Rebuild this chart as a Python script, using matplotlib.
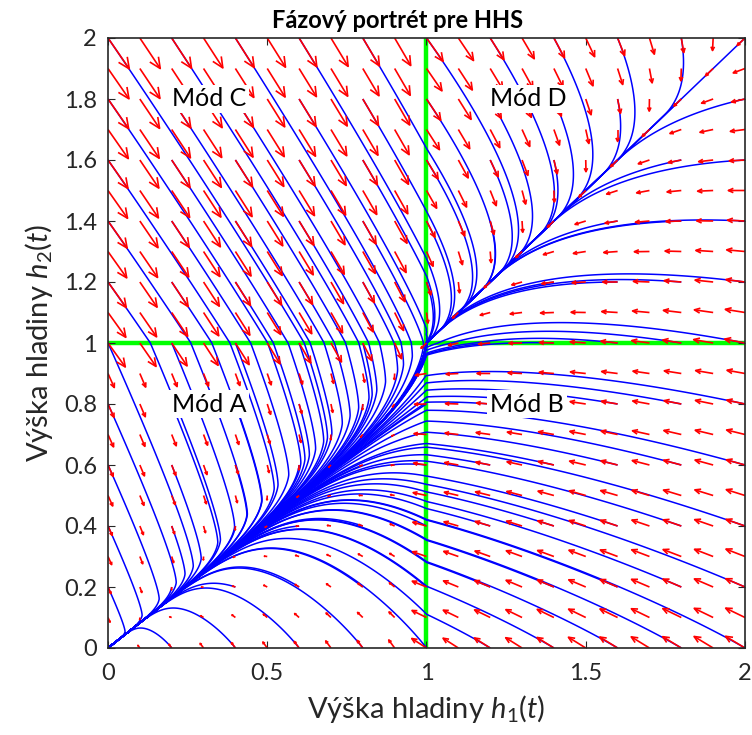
import numpy as np
import matplotlib
matplotlib.use("Agg")
import matplotlib.pyplot as plt
from matplotlib.collections import LineCollection

# ---------------- model of the hybrid two-tank system (per mode A, B, C, D) -------------
mode_names = ["A", "B", "C", "D"]
# exchange gains when h2 > h1 (flow 2 -> 1)
k1_pos = [0.018, 0.020, 0.047, 0.060]
k2_pos = [0.024, 0.027, 0.047, 0.045]
# exchange gains when h1 > h2 (flow 1 -> 2)
k1_neg = [0.016, 0.020, 0.047, 0.034]
k2_neg = [0.024, 0.027, 0.047, 0.026]
o1_mode = [0.001, 0.020, 0.005, 0.015]     # outflow coefficient tank 1
o2_mode = [0.018, 0.0196, 0.021, 0.015]    # outflow coefficient tank 2
p_mode = [0.5, 0.3, 0.3, 0.5]              # exchange exponent
h_switch = 1.0                             # switching level

# quiver grid and trajectory start points
grid_h = np.round(np.arange(0, 2.0001, 0.1), 10)
init_h = np.round(np.arange(0, 2.0001, 0.2), 10)

# texts
title = "Fázový portrét pre HHS"
xlabel = r"Výška hladiny $\mathit{h}_{\mathit{1}}\mathit{(t)}$"
ylabel = r"Výška hladiny $\mathit{h}_{\mathit{2}}\mathit{(t)}$"
labels = ["Mód A", "Mód B", "Mód C", "Mód D"]
label_h1 = [0.2, 1.2, 0.2, 1.2]
label_h2 = [0.8, 0.8, 1.8, 1.8]
xticks = [0, 0.5, 1, 1.5, 2]
xtick_labels = ["0", "0.5", "1", "1.5", "2"]
yticks = [0, 0.2, 0.4, 0.6, 0.8, 1, 1.2, 1.4, 1.6, 1.8, 2]
ytick_labels = ["0", "0.2", "0.4", "0.6", "0.8", "1", "1.2", "1.4", "1.6", "1.8", "2"]

FONT = "Lato"
plt.rcParams["font.family"] = [FONT, "DejaVu Sans"]
plt.rcParams["mathtext.fontset"] = "custom"
plt.rcParams["mathtext.it"] = FONT + ":italic"
plt.rcParams["mathtext.rm"] = FONT


def field(h1, h2):
    h1 = np.asarray(h1, float)
    h2 = np.asarray(h2, float)
    idx = (h1 >= h_switch).astype(int) + 2 * (h2 >= h_switch).astype(int)
    d = h2 - h1
    pos = d > 0
    k1 = np.where(pos, np.take(k1_pos, idx), np.take(k1_neg, idx))
    k2 = np.where(pos, np.take(k2_pos, idx), np.take(k2_neg, idx))
    o1 = np.take(o1_mode, idx)
    o2 = np.take(o2_mode, idx)
    p = np.take(p_mode, idx)
    f = np.sign(d) * np.abs(d) ** p
    u = k1 * f - o1 * np.sqrt(np.clip(h1, 0, None))
    v = -k2 * f - o2 * np.sqrt(np.clip(h2, 0, None))
    return u, v


def trajectories(x0, y0, ds=0.004, nmax=1600):
    x = x0.astype(float).copy()
    y = y0.astype(float).copy()
    active = np.ones_like(x, bool)
    xs = [x.copy()]
    ys = [y.copy()]
    for _ in range(nmax):
        u, v = field(x, y)
        sp = np.hypot(u, v)
        active &= (sp > 1e-12) & (x + y > 0.004)
        if not active.any():
            break
        dt = np.where(active, ds / np.maximum(sp, 1e-12), 0.0)
        u2, v2 = field(x + 0.5 * dt * u, y + 0.5 * dt * v)
        x = np.clip(x + dt * u2, 0, None)
        y = np.clip(y + dt * v2, 0, None)
        xs.append(x.copy())
        ys.append(y.copy())
    return np.array(xs).T, np.array(ys).T


fig = plt.figure(figsize=(7.52, 7.35), dpi=100)
ax = fig.add_axes([108 / 752, 1 - 648 / 735, (745 - 108) / 752, (648 - 38) / 735])

# switching lines
ax.axvline(h_switch, color=(0, 1, 0), lw=3.2, zorder=1)
ax.axhline(h_switch, color=(0, 1, 0), lw=3.2, zorder=1)

# trajectories
IX, IY = np.meshgrid(init_h, init_h)
TX, TY = trajectories(IX.ravel(), IY.ravel())
segs = []
for tx, ty in zip(TX, TY):
    keep = np.ones(len(tx), bool)
    keep[1:] = (np.diff(tx) != 0) | (np.diff(ty) != 0)
    segs.append(np.column_stack([tx[keep], ty[keep]]))
ax.add_collection(LineCollection(segs, colors="blue", linewidths=1.1, zorder=2))

# quiver (MATLAB-like autoscale and arrowheads)
GX, GY = np.meshgrid(grid_h, grid_h)
U, V = field(GX, GY)
n = len(grid_h)
delx = (grid_h.max() - grid_h.min()) / n
dely = delx
length = np.sqrt((U ** 2 + V ** 2) / (delx ** 2 + dely ** 2))
scale = 0.9 / length.max()
U = U * scale
V = V * scale
alpha, beta = 0.3, 0.45
qsegs = []
for x, y, u, v in zip(GX.ravel(), GY.ravel(), U.ravel(), V.ravel()):
    qsegs.append([(x, y), (x + u, y + v)])
    qsegs.append([(x + u - alpha * (u + beta * v), y + v - alpha * (v - beta * u)),
                  (x + u, y + v),
                  (x + u - alpha * (u - beta * v), y + v - alpha * (v + beta * u))])
ax.add_collection(LineCollection(qsegs, colors="red", linewidths=1.2, zorder=3))

# mode labels
for t, lx, ly in zip(labels, label_h1, label_h2):
    ax.text(lx, ly, t, fontsize=18, ha="left", va="center", color="black", zorder=5,
            bbox=dict(facecolor="white", edgecolor="none", pad=2))

ax.set_xlim(0, 2)
ax.set_ylim(0, 2)
ax.set_xticks(xticks)
ax.set_xticklabels(xtick_labels)
ax.set_yticks(yticks)
ax.set_yticklabels(ytick_labels)
ax.tick_params(direction="in", top=True, right=True, labelsize=17, length=5,
               color=(0.15, 0.15, 0.15), labelcolor=(0.15, 0.15, 0.15))
ax.tick_params(axis="x", pad=11)
ax.tick_params(axis="y", pad=8)
for s in ax.spines.values():
    s.set_color((0.15, 0.15, 0.15))
    s.set_linewidth(1.2)
    s.set_zorder(6)
ax.set_title(title, fontsize=17, fontweight="bold", pad=7, x=0.455)
ax.set_xlabel(xlabel, fontsize=21, color=(0.15, 0.15, 0.15), labelpad=6)
ax.set_ylabel(ylabel, fontsize=21, color=(0.15, 0.15, 0.15), labelpad=6)

fig.savefig("out.png", dpi=100)
